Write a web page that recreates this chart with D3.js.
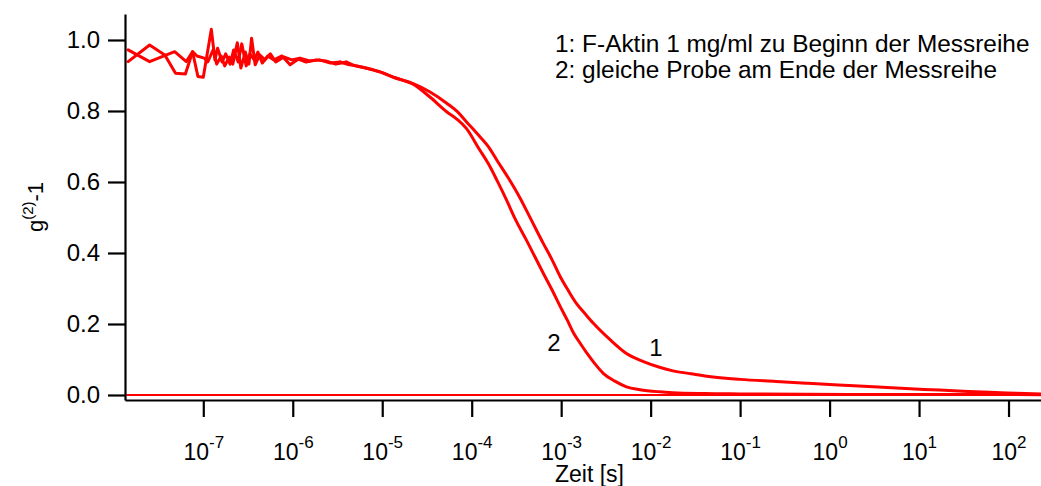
<!DOCTYPE html>
<html>
<head>
<meta charset="utf-8">
<script src="https://cdn.jsdelivr.net/npm/d3@7"></script>
<style>
  body { margin: 0; background: #fff; }
  svg { display: block; font-family: "Liberation Sans", Arial, sans-serif; }
</style>
</head>
<body>
<div id="chart"></div>
<script>
// ---------------------------------------------------------------- data --//
var xTickExp = [-7, -6, -5, -4, -3, -2, -1, 0, 1, 2];
var yTicks = [0, 0.2, 0.4, 0.6, 0.8, 1.0];
var legendLines = ["1: F-Aktin 1 mg/ml zu Beginn der Messreihe",
                   "2: gleiche Probe am Ende der Messreihe"];

// curve 1: F-Aktin at start of series (log10 of time in s, g2-1)
var logT1 = [-7.84, -7.60, -7.32, -7.19, -7.12, -7.06, -7.00, -6.91, -6.87, -6.84,
             -6.79, -6.75, -6.70, -6.66, -6.61, -6.57, -6.52, -6.48, -6.43, -6.39,
             -6.34, -6.28, -6.21, -6.12, -6.03, -5.94, -5.85, -5.74, -5.63, -5.52,
             -5.40, -5.29, -5.18, -5.03, -4.85, -4.66, -4.47, -4.28, -4.16, -4.06,
             -3.91, -3.81, -3.72, -3.59, -3.46, -3.35, -3.20, -3.10, -3.01, -2.92,
             -2.83, -2.73, -2.64, -2.45, -2.27, -2.08, -1.90, -1.75, -1.55, -1.37,
             -1.00, -0.60, -0.26, 0.10, 0.49, 0.85, 1.23, 1.55, 1.79, 2.09, 2.36];
var g1 = [0.972, 0.939, 0.967, 0.939, 0.967, 0.897, 0.895, 1.030, 0.944, 0.977,
          0.938, 0.961, 0.932, 0.972, 0.938, 0.989, 0.927, 0.961, 0.944, 0.966,
          0.935, 0.955, 0.944, 0.955, 0.930, 0.946, 0.938, 0.944, 0.941, 0.932,
          0.938, 0.927, 0.921, 0.911, 0.893, 0.878, 0.854, 0.822, 0.798, 0.770,
          0.728, 0.698, 0.662, 0.611, 0.555, 0.501, 0.427, 0.380, 0.333, 0.294,
          0.258, 0.228, 0.202, 0.155, 0.117, 0.094, 0.078, 0.068, 0.060, 0.053,
          0.044, 0.038, 0.033, 0.028, 0.023, 0.018, 0.014, 0.010, 0.0075, 0.005, 0.003];

// curve 2: same sample at end of series
var logT2 = [-7.84, -7.60, -7.43, -7.31, -7.20, -7.12, -7.07, -6.99, -6.95, -6.89,
             -6.85, -6.80, -6.76, -6.71, -6.67, -6.62, -6.58, -6.53, -6.49, -6.46,
             -6.42, -6.37, -6.31, -6.25, -6.19, -6.10, -6.01, -5.92, -5.81, -5.70,
             -5.58, -5.47, -5.36, -5.23, -5.03, -4.85, -4.66, -4.47, -4.28, -4.16,
             -4.06, -3.91, -3.81, -3.72, -3.61, -3.52, -3.39, -3.20, -3.10, -3.01,
             -2.93, -2.86, -2.78, -2.71, -2.62, -2.53, -2.40, -2.27, -2.12, -1.90,
             -1.75, -1.40, -1.00, 0.23, 2.36];
var g2 = [0.939, 0.986, 0.958, 0.906, 0.904, 0.967, 0.955, 0.949, 0.938, 0.972,
          0.932, 0.955, 0.927, 0.952, 0.932, 0.992, 0.921, 0.966, 0.932, 1.005,
          0.930, 0.958, 0.944, 0.961, 0.938, 0.952, 0.944, 0.949, 0.941, 0.944,
          0.935, 0.938, 0.930, 0.924, 0.910, 0.893, 0.876, 0.840, 0.798, 0.776,
          0.751, 0.690, 0.650, 0.606, 0.549, 0.499, 0.437, 0.343, 0.295, 0.249,
          0.210, 0.174, 0.143, 0.117, 0.087, 0.061, 0.039, 0.023, 0.015, 0.009,
          0.0065, 0.004, 0.003, 0.0015, 0.001];

// zero baseline
var logT0 = [-7.85, 2.37];
var g0 = [0, 0];

// noisy short-time part is drawn point to point, the smooth decay after it with a spline
var noisyUntil = -5.5;

// --------------------------------------------------------------- setup --//
var width = 1041, height = 486;

var svg = d3.select("#chart").append("svg")
    .attr("width", width)
    .attr("height", height);

var x = d3.scaleLog()
    .domain([Math.pow(10, -7.875), Math.pow(10, 2.363)])
    .range([125, 1041]);

var y = d3.scaleLinear()
    .domain([-0.0141, 1.0732])
    .range([400, 14]);

function toPoints(logs, vals) {
    return logs.map(function (l, i) { return [Math.pow(10, l), vals[i]]; });
}

var lineRaw = d3.line()
    .x(function (d) { return x(d[0]); })
    .y(function (d) { return y(d[1]); });

var lineSmooth = d3.line()
    .curve(d3.curveMonotoneX)
    .x(function (d) { return x(d[0]); })
    .y(function (d) { return y(d[1]); });

// --------------------------------------------------------------- curves --//
function drawCurve(logs, vals, w) {
    var pts = toPoints(logs, vals);
    var cut = Math.pow(10, noisyUntil);
    var k = pts.findIndex(function (p) { return p[0] >= cut; });
    if (k < 0) k = pts.length - 1;
    [[pts.slice(0, k + 1), lineRaw], [pts.slice(k), lineSmooth]].forEach(function (part) {
        svg.append("path")
            .datum(part[0])
            .attr("d", part[1])
            .attr("fill", "none")
            .attr("stroke", "#ff0000")
            .attr("stroke-width", w)
            .attr("stroke-linejoin", "round")
            .attr("stroke-linecap", "round");
    });
}

drawCurve(logT0, g0, 2.2);
drawCurve(logT1, g1, 3);
drawCurve(logT2, g2, 3);

// ----------------------------------------------------------------- axes --//
var yAxis = svg.append("g")
    .attr("transform", "translate(125,0)")
    .call(d3.axisLeft(y).tickValues(yTicks).tickSize(17).tickSizeOuter(0)
        .tickPadding(8).tickFormat(d3.format(".1f")));

var xAxis = svg.append("g")
    .attr("transform", "translate(0,400)")
    .call(d3.axisBottom(x).tickValues(xTickExp.map(function (e) { return Math.pow(10, e); }))
        .tickSize(17).tickSizeOuter(0).tickFormat(""));

[yAxis, xAxis].forEach(function (a) {
    a.selectAll("path, line").attr("stroke", "#000").attr("stroke-width", 2.2);
    a.attr("font-family", null).attr("font-size", null);
});
yAxis.selectAll("text").attr("font-size", 24).attr("fill", "#000");

// x tick labels with superscript exponents
xAxis.selectAll(".tick").each(function (d) {
    var e = Math.round(Math.log10(d));
    var t = d3.select(this).append("text")
        .attr("y", 60)
        .attr("text-anchor", "middle")
        .attr("fill", "#000")
        .attr("font-size", 23);
    t.append("tspan").text("10");
    t.append("tspan").attr("font-size", 17).attr("dy", -12).text(e);
});

// axis titles
svg.append("text")
    .attr("x", 555).attr("y", 482)
    .attr("font-size", 23)
    .text("Zeit [s]");

var yt = svg.append("text")
    .attr("transform", "translate(43,207) rotate(-90)")
    .attr("text-anchor", "middle")
    .attr("font-size", 22);
yt.append("tspan").text("g");
yt.append("tspan").attr("font-size", 15).attr("dy", -10).text("(2)");
yt.append("tspan").attr("dy", 10).text("-1");

// legend and curve labels
svg.selectAll(".legend")
    .data(legendLines)
    .enter().append("text")
    .attr("class", "legend")
    .attr("x", 555)
    .attr("y", function (d, i) { return 52 + i * 26; })
    .attr("font-size", 24.4)
    .text(String);

svg.append("text").attr("x", 554).attr("y", 351).attr("text-anchor", "middle")
    .attr("font-size", 24).text("2");
svg.append("text").attr("x", 656).attr("y", 356).attr("text-anchor", "middle")
    .attr("font-size", 24).text("1");
</script>
</body>
</html>
